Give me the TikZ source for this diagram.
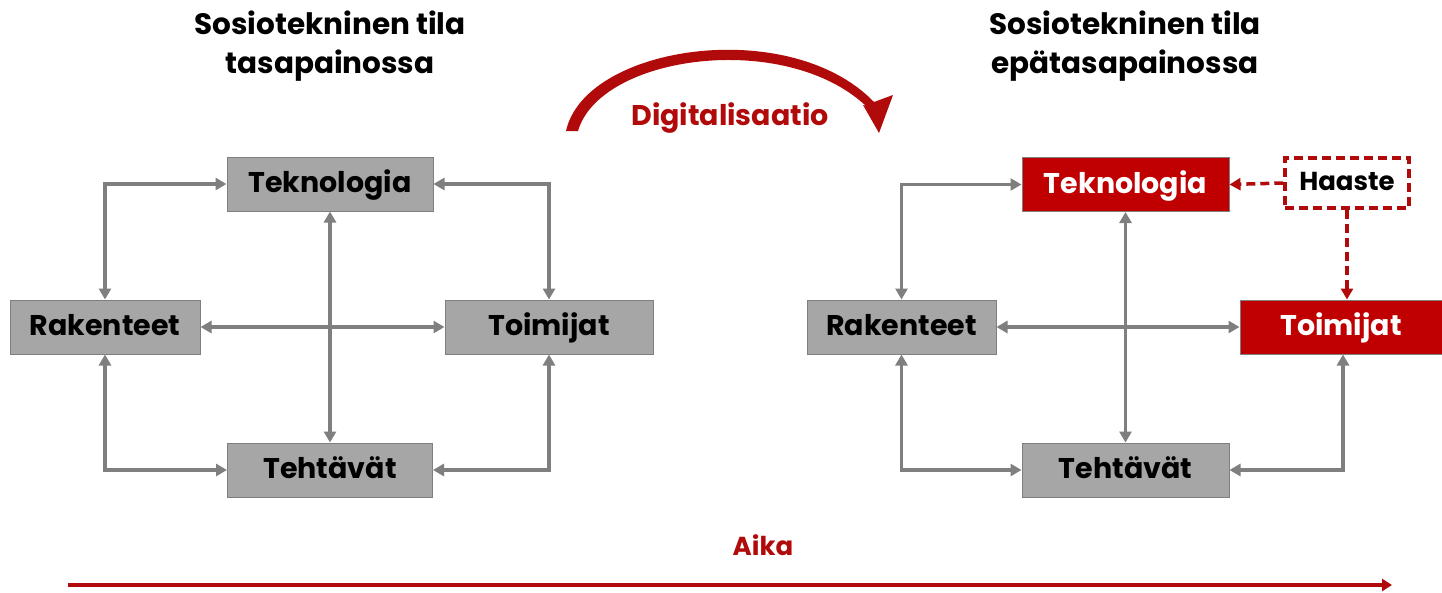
\documentclass[tikz,border=0pt]{standalone}
\usepackage{fontspec}
\setmainfont{Poppins}
\usetikzlibrary{arrows.meta}
\definecolor{dred}{HTML}{B00A0A}
\definecolor{bred}{HTML}{C00000}
\definecolor{gbox}{HTML}{A6A6A6}
\definecolor{gline}{HTML}{7F7F7F}
\tikzset{
  box/.style={draw=gline, line width=1pt, fill=gbox, minimum height=54pt, inner sep=0pt, text height=20pt, text depth=3pt, font=\fontsize{28.5}{30}\selectfont\bfseries},
  redbox/.style={box, draw=gline, fill=bred, text=white},
  conn/.style={draw=gline, line width=3.5pt, {Triangle[length=11pt,width=12pt]}-{Triangle[length=11pt,width=12pt]}},
  dconn/.style={draw=dred, line width=3.5pt, dash pattern=on 9pt off 5pt, -{Triangle[length=11pt,width=12pt]}},
  title/.style={align=center, font=\fontsize{29.5}{39}\selectfont\bfseries},
}
\begin{document}
\begin{tikzpicture}[x=1pt,y=-1pt]
\useasboundingbox (0,0) rectangle (1442,592);
% titles
\node[title] (t1) at (330,46) {Sosiotekninen tila\\tasapainossa};
\node[title] (t2) at (1125,46) {Sosiotekninen tila\\epätasapainossa};
% digitalisaatio arc
\fill[dred] (566,131) .. controls (585,45) and (790,15) .. (874,102)
  -- (893,95) -- (879,133) -- (863,105) -- (866,106)
  .. controls (785,30) and (600,55) .. (578,131) -- cycle;
\node[text=dred, font=\fontsize{28.5}{30}\selectfont\bfseries] (dig) at (730,118) {Digitalisaatio};
% left diagram
\node[box, minimum width=206pt] (tek1) at (330,184) {Teknologia};
\node[box, minimum width=190pt] (rak1) at (105,327) {Rakenteet};
\node[box, minimum width=208pt] (toi1) at (549,327) {Toimijat};
\node[box, minimum width=205pt] (teh1) at (330,470) {Tehtävät};
\draw[conn] (rak1.north) |- (tek1.west);
\draw[conn] (toi1.north) |- (tek1.east);
\draw[conn] (tek1.south) -- (teh1.north);
\draw[conn] (rak1.east) -- (toi1.west);
\draw[conn] (rak1.south) |- (teh1.west);
\draw[conn] (toi1.south) |- (teh1.east);
% right diagram
\node[redbox, minimum width=207pt] (tek2) at (1125.5,184.5) {Teknologia};
\node[box, minimum width=189pt] (rak2) at (901.5,327) {Rakenteet};
\node[redbox, minimum width=202pt] (toi2) at (1341,327) {Toimijat};
\node[box, minimum width=207pt] (teh2) at (1125.5,470) {Tehtävät};
\node[draw=dred, line width=3.5pt, dash pattern=on 9pt off 5pt, fill=white, minimum width=124pt, minimum height=50pt, inner sep=0pt, text height=18pt, text depth=3pt, font=\fontsize{26}{28}\selectfont\bfseries] (haa) at (1347,183) {Haaste};
\draw[conn] (rak2.north) |- (tek2.west);
\draw[conn] (tek2.south) -- (teh2.north);
\draw[conn] (rak2.east) -- (toi2.west);
\draw[conn] (rak2.south) |- (teh2.west);
\draw[conn] ([xshift=2pt]toi2.south) |- (teh2.east);
\draw[dconn] (haa.west) -- (tek2.east);
\draw[dconn] (haa.south) -- (haa.south |- toi2.north);
% time axis
\node[text=dred, font=\fontsize{26}{28}\selectfont\bfseries] (aika) at (763,545) {Aika};
\coordinate (a0) at (68,585);
\coordinate (a1) at (1392,585);
\draw[dred, line width=4pt, -{Triangle[length=10pt,width=12pt]}] (a0) -- (a1);
\end{tikzpicture}
\end{document}
